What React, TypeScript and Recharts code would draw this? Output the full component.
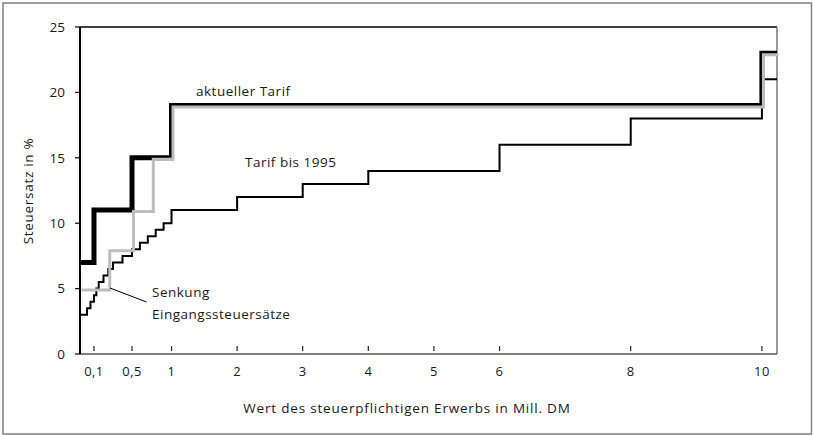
import React from "react";
import { LineChart, Line, XAxis, YAxis, ReferenceLine } from "recharts";

// Wert des Erwerbs in Mill. DM (x) und Steuersatz in % (y), Steuerklasse I
const X_END = 10.23; // axis runs out a little past 10 Mill.

const AKTUELL_WERT = [0, 0.1, 0.5, 1, 10, X_END];
const AKTUELL_SATZ = [7, 11, 15, 19, 23, 23];

const SENKUNG_WERT = [0, 0.25, 0.5, 0.75, 1, 10, X_END];
const SENKUNG_SATZ = [5, 8, 11, 15, 19, 23, 23];

const ALT_WERT = [
  0, 0.05, 0.075, 0.1, 0.125, 0.15, 0.2, 0.25, 0.3, 0.4, 0.5, 0.6, 0.7, 0.8,
  0.9, 1, 2, 3, 4, 6, 8, 10, X_END,
];
const ALT_SATZ = [
  3, 3.5, 4, 4.5, 5, 5.5, 6, 6.5, 7, 7.5, 8, 8.5, 9, 9.5, 10, 11, 12, 13, 14,
  16, 18, 21, 21,
];

const X_TICKS = [0.1, 0.5, 1, 2, 3, 4, 5, 6, 8, 10];
const X_TICK_LABELS = ["0,1", "0,5", "1", "2", "3", "4", "5", "6", "8", "10"];
const Y_TICKS = [0, 5, 10, 15, 20, 25];

// the axis is stretched below 1 Mill. DM
const KNOT_WERT = [0, 0.1, 0.5, 1];
const KNOT_POS = [0, 0.213, 0.793, 1.395];

const toPos = (v: number) => {
  if (v >= 1) return KNOT_POS[3] + (v - 1);
  for (let i = 1; i < KNOT_WERT.length; i++) {
    if (v <= KNOT_WERT[i]) {
      const t = (v - KNOT_WERT[i - 1]) / (KNOT_WERT[i] - KNOT_WERT[i - 1]);
      return KNOT_POS[i - 1] + t * (KNOT_POS[i] - KNOT_POS[i - 1]);
    }
  }
  return v;
};

const toSeries = (wert: number[], satz: number[]) =>
  wert.map((w, i) => ({ pos: toPos(w), satz: satz[i] }));

const aktuell = toSeries(AKTUELL_WERT, AKTUELL_SATZ);
const senkung = toSeries(SENKUNG_WERT, SENKUNG_SATZ);
const alt = toSeries(ALT_WERT, ALT_SATZ);

const FONT = "'Open Sans', 'Noto Sans', sans-serif";
const TEXT = "#1a1a1a";

const XTick = ({ x, y, index }: any) => (
  <g>
    <line x1={x} x2={x} y1={y - 8} y2={y - 3} stroke="#222" strokeWidth={1.2} />
    <text
      x={x}
      y={y + 22}
      textAnchor="middle"
      fontSize={13}
      letterSpacing={0.4}
      fontFamily={FONT}
      fill={TEXT}
    >
      {X_TICK_LABELS[index]}
    </text>
  </g>
);

export default function App() {
  const xMax = toPos(X_END);

  return (
    <div
      style={{
        position: "absolute",
        left: 0,
        top: 0,
        width: 813,
        height: 435,
        background: "#fff",
      }}
    >
      <style>{`.senkung-line { transform: translate(1.5px, 1.5px); }`}</style>
      <LineChart
        width={813}
        height={435}
        margin={{ top: 27, right: 36, bottom: 51, left: 30 }}
      >
        <XAxis
          type="number"
          dataKey="pos"
          domain={[0, xMax]}
          ticks={X_TICKS.map(toPos)}
          interval={0}
          allowDuplicatedCategory={false}
          height={30}
          tickSize={0}
          tickMargin={0}
          tickLine={false}
          axisLine={{ stroke: "#555", strokeWidth: 1.5 }}
          tick={<XTick />}
        />
        <YAxis
          type="number"
          domain={[0, 25]}
          ticks={Y_TICKS}
          width={50}
          tickSize={5}
          tickMargin={10}
          axisLine={{ stroke: "#000", strokeWidth: 2 }}
          tickLine={{ stroke: "#000", strokeWidth: 1.2 }}
          tick={{ fontSize: 13.5, fontFamily: FONT, fill: TEXT }}
        />
        <ReferenceLine y={25} stroke="#000" strokeWidth={1.5} />
        <ReferenceLine x={xMax} stroke="#777" strokeWidth={1.5} />
        <Line
          data={alt}
          dataKey="satz"
          type="stepAfter"
          stroke="#000"
          strokeWidth={2}
          dot={false}
          isAnimationActive={false}
        />
        <Line
          data={aktuell}
          dataKey="satz"
          type="stepAfter"
          stroke="#000"
          strokeWidth={5}
          dot={false}
          isAnimationActive={false}
        />
        <Line
          data={senkung}
          dataKey="satz"
          type="stepAfter"
          stroke="#bdbdbd"
          strokeWidth={3}
          dot={false}
          className="senkung-line"
          isAnimationActive={false}
        />
      </LineChart>
      <svg
        width={813}
        height={435}
        style={{ position: "absolute", left: 0, top: 0, pointerEvents: "none" }}
        fontFamily={FONT}
        fontSize={13.5}
        letterSpacing={0.5}
        fill={TEXT}
      >
        <rect
          x={3}
          y={3}
          width={808.5}
          height={431}
          fill="none"
          stroke="#808080"
          strokeWidth={1.5}
        />
        <text x={196} y={96}>
          aktueller Tarif
        </text>
        <text x={245} y={167}>
          Tarif bis 1995
        </text>
        <text x={152} y={297}>
          Senkung
        </text>
        <text x={152} y={319}>
          Eingangssteuersätze
        </text>
        <line x1={110} y1={288} x2={146.5} y2={302} stroke="#000" strokeWidth={1} />
        <text
          x={33}
          y={191}
          textAnchor="middle"
          letterSpacing={0.7}
          transform="rotate(-90 33 191)"
        >
          Steuersatz in %
        </text>
        <text x={407} y={413} textAnchor="middle" letterSpacing={0.8}>
          Wert des steuerpflichtigen Erwerbs in Mill. DM
        </text>
      </svg>
    </div>
  );
}
